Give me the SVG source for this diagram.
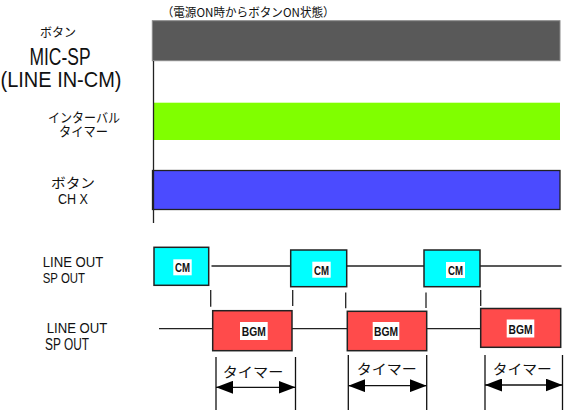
<svg xmlns="http://www.w3.org/2000/svg" width="565" height="410" viewBox="0 0 565 410">
<defs>
<style>
.jp{font-family:"Noto Sans CJK JP","Noto Sans",sans-serif;fill:#111;}
.lt{font-family:"Liberation Sans","DejaVu Sans",sans-serif;fill:#111;}
.lb{font-family:"Liberation Sans","DejaVu Sans",sans-serif;font-weight:bold;fill:#111;font-size:13px;}
.ln{stroke:#222;stroke-width:1.3;fill:none;}
.cm{fill:#00FFFF;stroke:#222;stroke-width:1.5;}
.bgm{fill:#FF4B4B;stroke:#222;stroke-width:1.5;}
.lbl{fill:#fff;}
.dim{stroke:#111;stroke-width:1.3;fill:none;}
</style>
<marker id="ah" viewBox="0 0 17 13" markerWidth="17" markerHeight="13" refX="17" refY="6.5" orient="auto-start-reverse" markerUnits="userSpaceOnUse">
<path d="M0,0 L17,6.5 L0,13 z" fill="#000"/>
</marker>
</defs>
<rect width="565" height="410" fill="#fff"/>

<g id="labels">
<text class="jp" x="58" y="36.5" font-size="12.5" text-anchor="middle" textLength="36" lengthAdjust="spacingAndGlyphs">ボタン</text>
<text class="lt" x="60" y="65" font-size="24" text-anchor="middle" textLength="61" lengthAdjust="spacingAndGlyphs">MIC-SP</text>
<text class="lt" x="61" y="86.5" font-size="22" text-anchor="middle" textLength="121" lengthAdjust="spacingAndGlyphs">(LINE IN-CM)</text>
<text class="jp" x="84" y="122" font-size="13" text-anchor="middle" textLength="72" lengthAdjust="spacingAndGlyphs">インターバル</text>
<text class="jp" x="83.5" y="135.5" font-size="13" text-anchor="middle" textLength="49" lengthAdjust="spacingAndGlyphs">タイマー</text>
<text class="jp" x="73" y="188" font-size="13.5" text-anchor="middle" textLength="44" lengthAdjust="spacingAndGlyphs">ボタン</text>
<text class="lt" x="73" y="204.3" font-size="14.5" text-anchor="middle" textLength="30" lengthAdjust="spacingAndGlyphs">CH X</text>
<text class="lt" x="42.7" y="266.7" font-size="15" textLength="60.6" lengthAdjust="spacingAndGlyphs">LINE OUT</text>
<text class="lt" x="42.7" y="282.7" font-size="15" textLength="42.3" lengthAdjust="spacingAndGlyphs">SP OUT</text>
<text class="lt" x="46.7" y="333.3" font-size="15.5" textLength="60.6" lengthAdjust="spacingAndGlyphs">LINE OUT</text>
<text class="lt" x="45" y="349.8" font-size="16" textLength="44" lengthAdjust="spacingAndGlyphs">SP OUT</text>
<text class="jp" x="161.7" y="16.5" font-size="12" textLength="173" lengthAdjust="spacingAndGlyphs">（電源ON時からボタンON状態）</text>
</g>

<g id="bar-mic">
<rect x="152.3" y="20.7" width="407.7" height="40" fill="#595959" stroke="#8a8a8a" stroke-width="1"/>
</g>
<g id="bar-interval">
<rect x="153.3" y="102.7" width="406.7" height="37.3" fill="#80FF00"/>
</g>
<g id="bar-ch">
<rect x="152.5" y="170.5" width="407.5" height="39" fill="#4B4BFF" stroke="#222" stroke-width="1.3"/>
</g>

<g id="connectors">
<line class="ln" x1="153.5" y1="61" x2="153.5" y2="223"/>
<line class="ln" x1="211.5" y1="266" x2="290.7" y2="266"/>
<line class="ln" x1="346.7" y1="266" x2="424" y2="266"/>
<line class="ln" x1="480" y1="266" x2="561.5" y2="266"/>
<line class="ln" x1="159" y1="328.7" x2="212.7" y2="328.7"/>
<line class="ln" x1="292" y1="328.7" x2="347.3" y2="328.7"/>
<line class="ln" x1="426.7" y1="328.7" x2="480.7" y2="328.7"/>
<line class="ln" x1="210.7" y1="290" x2="210.7" y2="306.7"/>
<line class="ln" x1="292.7" y1="290" x2="292.7" y2="306"/>
<line class="ln" x1="345.7" y1="292.5" x2="345.7" y2="308.3"/>
<line class="ln" x1="426" y1="292.5" x2="426" y2="308"/>
<line class="ln" x1="480.7" y1="290" x2="480.7" y2="306"/>
<line class="dim" x1="216" y1="357" x2="216" y2="410"/>
<line class="dim" x1="295.5" y1="357" x2="295.5" y2="410"/>
<line class="dim" x1="216" y1="387.3" x2="295.5" y2="387.3" marker-start="url(#ah)" marker-end="url(#ah)"/>
<line class="dim" x1="348.3" y1="355" x2="348.3" y2="410"/>
<line class="dim" x1="426.7" y1="355" x2="426.7" y2="410"/>
<line class="dim" x1="348.3" y1="385.7" x2="426.7" y2="385.7" marker-start="url(#ah)" marker-end="url(#ah)"/>
<line class="dim" x1="485" y1="355" x2="485" y2="410"/>
<line class="dim" x1="562.5" y1="355" x2="562.5" y2="410"/>
<line class="dim" x1="485" y1="385" x2="562.5" y2="385" marker-start="url(#ah)" marker-end="url(#ah)"/>
</g>

<g id="cm1">
<rect class="cm" x="154" y="247.3" width="54.7" height="38"/>
<rect class="lbl" x="173.3" y="259.3" width="18.4" height="16"/>
<text class="lb" x="182.5" y="272.3" text-anchor="middle" textLength="15" lengthAdjust="spacingAndGlyphs">CM</text>
</g>
<g id="cm2">
<rect class="cm" x="290.7" y="250" width="56" height="36.7"/>
<rect class="lbl" x="312.3" y="261.7" width="18.4" height="16"/>
<text class="lb" x="321.5" y="274.7" text-anchor="middle" textLength="15" lengthAdjust="spacingAndGlyphs">CM</text>
</g>
<g id="cm3">
<rect class="cm" x="424" y="250" width="56" height="36.7"/>
<rect class="lbl" x="446" y="262" width="19" height="16"/>
<text class="lb" x="455.5" y="275" text-anchor="middle" textLength="15" lengthAdjust="spacingAndGlyphs">CM</text>
</g>

<g id="bgm1">
<rect class="bgm" x="212.7" y="310.7" width="79.3" height="40"/>
<rect class="lbl" x="240" y="322" width="27.7" height="18"/>
<text class="lb" x="253.8" y="336" text-anchor="middle" textLength="24" lengthAdjust="spacingAndGlyphs">BGM</text>
</g>
<g id="bgm2">
<rect class="bgm" x="347.3" y="311.3" width="79.4" height="39.4"/>
<rect class="lbl" x="372.7" y="322" width="26.6" height="18"/>
<text class="lb" x="386" y="336" text-anchor="middle" textLength="24" lengthAdjust="spacingAndGlyphs">BGM</text>
</g>
<g id="bgm3">
<rect class="bgm" x="480.7" y="308.5" width="80" height="38.8"/>
<rect class="lbl" x="506.7" y="319.5" width="27.6" height="18"/>
<text class="lb" x="520.5" y="333.5" text-anchor="middle" textLength="24" lengthAdjust="spacingAndGlyphs">BGM</text>
</g>

<g id="timer-labels">
<text class="jp" x="253" y="376.5" font-size="14" text-anchor="middle" textLength="60.6" lengthAdjust="spacingAndGlyphs">タイマー</text>
<text class="jp" x="386.7" y="373.8" font-size="14" text-anchor="middle" textLength="60" lengthAdjust="spacingAndGlyphs">タイマー</text>
<text class="jp" x="522.2" y="373.8" font-size="14" text-anchor="middle" textLength="59" lengthAdjust="spacingAndGlyphs">タイマー</text>
</g>
</svg>
